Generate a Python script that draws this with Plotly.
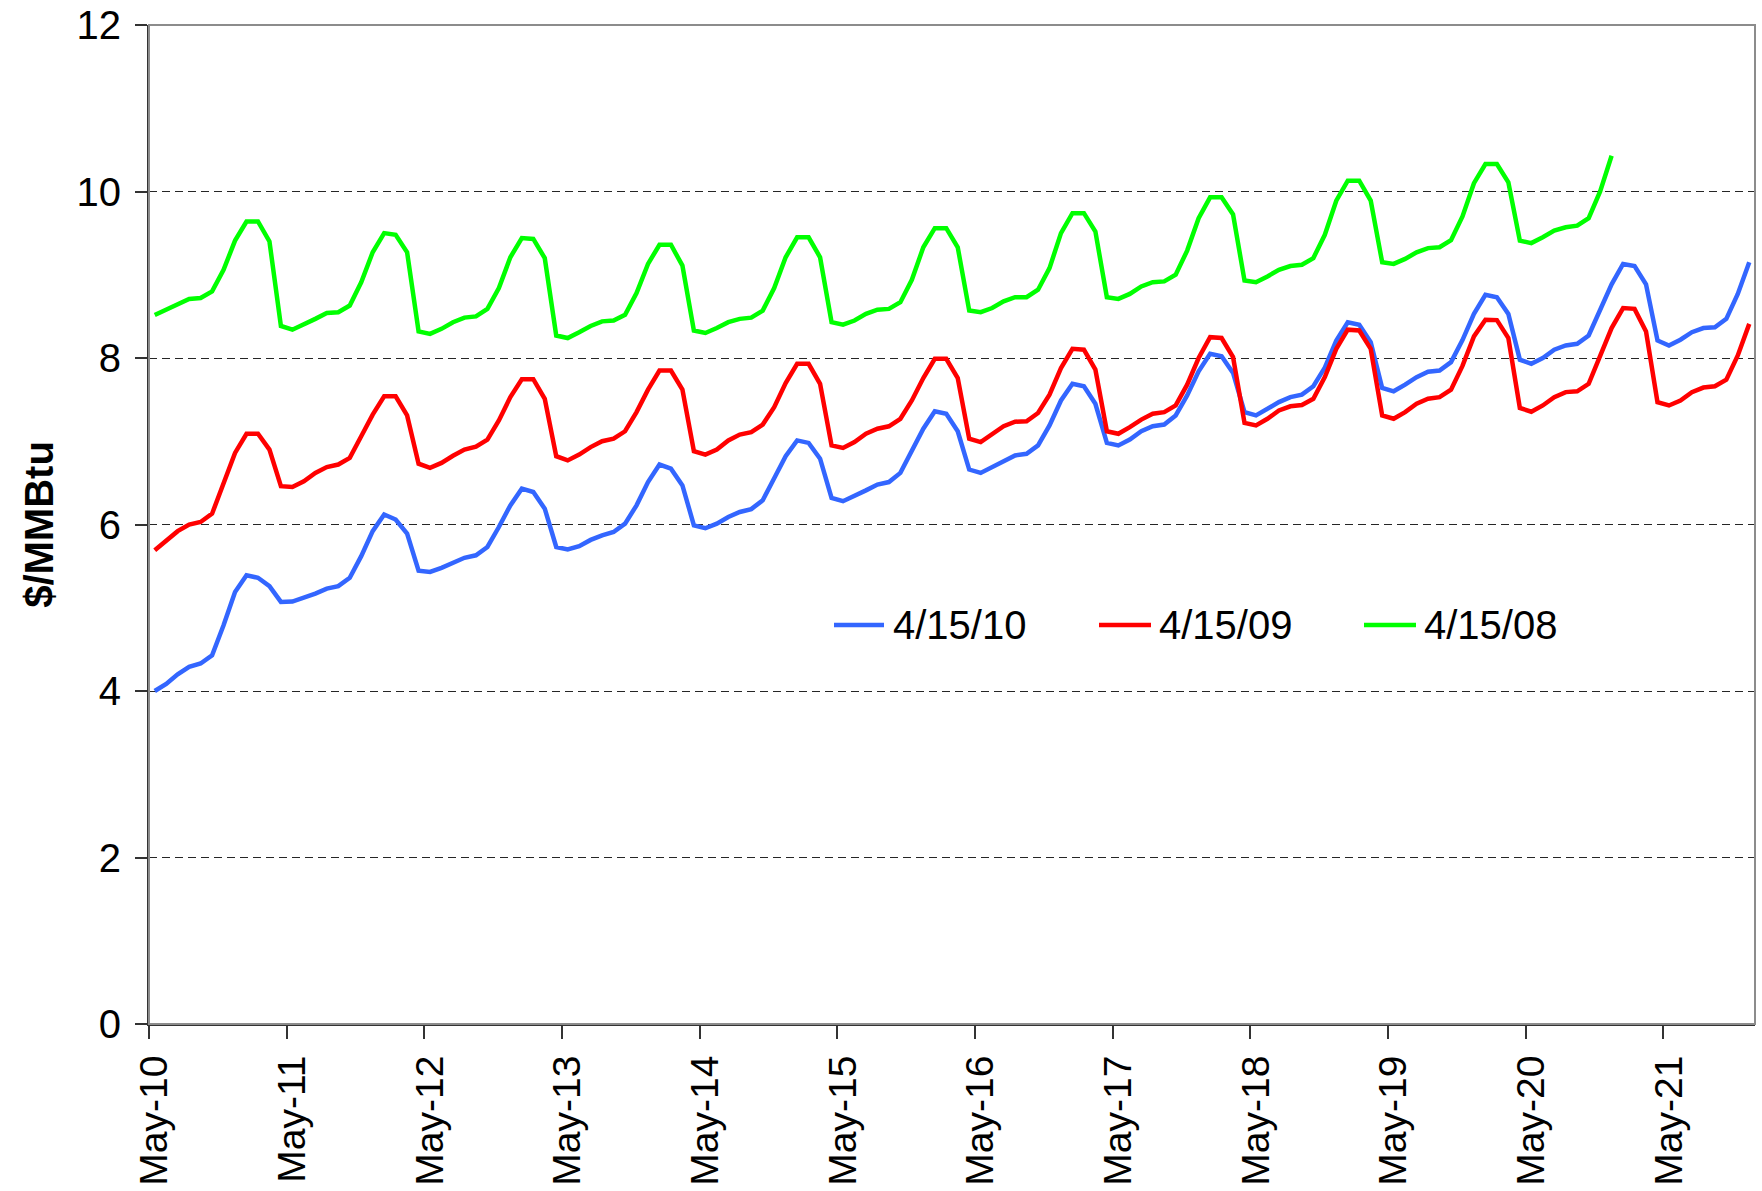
import pandas as pd
import plotly.graph_objects as go

# Monthly contract months of the futures strip (May-10 .. Dec-21)
months = pd.date_range("2010-05-01", "2021-12-01", freq="MS").strftime("%b-%y").tolist()
tick_labels = [f"May-{y:02d}" for y in range(10, 22)]

# Henry Hub futures strips ($/MMBtu) by trade date
strip_2010 = [
    4.00, 4.085, 4.20, 4.29, 4.33, 4.43, 4.79, 5.19, 5.39, 5.36, 5.26, 5.07,
    5.075, 5.12, 5.17, 5.23, 5.26, 5.36, 5.62, 5.92, 6.12, 6.06, 5.89, 5.445,
    5.43, 5.48, 5.54, 5.60, 5.63, 5.73, 5.97, 6.23, 6.43, 6.39, 6.19, 5.73,
    5.70, 5.74, 5.815, 5.87, 5.91, 6.01, 6.23, 6.51, 6.72, 6.67, 6.47, 5.99,
    5.955, 6.01, 6.09, 6.15, 6.185, 6.29, 6.555, 6.82, 7.01, 6.98, 6.79, 6.32,
    6.28, 6.34, 6.41, 6.48, 6.51, 6.62, 6.88, 7.15, 7.36, 7.33, 7.12, 6.66,
    6.62, 6.69, 6.77, 6.83, 6.85, 6.95, 7.19, 7.49, 7.69, 7.66, 7.45, 6.98,
    6.95, 7.02, 7.12, 7.18, 7.20, 7.31, 7.55, 7.84, 8.05, 8.02, 7.82, 7.35,
    7.31, 7.39, 7.47, 7.53, 7.56, 7.66, 7.885, 8.21, 8.43, 8.40, 8.19, 7.64,
    7.60, 7.68, 7.77, 7.835, 7.85, 7.95, 8.215, 8.53, 8.76, 8.73, 8.53, 7.98,
    7.93, 8.00, 8.10, 8.15, 8.17, 8.27, 8.58, 8.885, 9.13, 9.105, 8.885, 8.21,
    8.15, 8.22, 8.31, 8.36, 8.37, 8.47, 8.77, 9.15,
]
strip_2009 = [
    5.69, 5.81, 5.92, 6.00, 6.03, 6.13, 6.49, 6.86, 7.09, 7.09, 6.90, 6.46,
    6.45, 6.52, 6.62, 6.69, 6.72, 6.80, 7.06, 7.32, 7.54, 7.54, 7.31, 6.73,
    6.68, 6.74, 6.825, 6.90, 6.935, 7.02, 7.25, 7.53, 7.745, 7.745, 7.51, 6.82,
    6.77, 6.84, 6.93, 7.00, 7.03, 7.12, 7.35, 7.62, 7.85, 7.85, 7.62, 6.88,
    6.84, 6.90, 7.01, 7.08, 7.11, 7.20, 7.41, 7.70, 7.93, 7.93, 7.69, 6.95,
    6.92, 6.99, 7.09, 7.15, 7.18, 7.27, 7.49, 7.76, 7.99, 7.99, 7.76, 7.03,
    6.99, 7.08, 7.18, 7.235, 7.24, 7.34, 7.56, 7.88, 8.11, 8.10, 7.86, 7.12,
    7.09, 7.17, 7.26, 7.33, 7.35, 7.43, 7.68, 8.00, 8.25, 8.24, 8.01, 7.22,
    7.19, 7.27, 7.37, 7.42, 7.435, 7.51, 7.77, 8.11, 8.34, 8.33, 8.11, 7.31,
    7.27, 7.35, 7.45, 7.51, 7.53, 7.62, 7.905, 8.26, 8.46, 8.455, 8.24, 7.40,
    7.355, 7.43, 7.53, 7.59, 7.60, 7.69, 8.03, 8.36, 8.60, 8.59, 8.32, 7.47,
    7.43, 7.49, 7.59, 7.645, 7.66, 7.74, 8.03, 8.41,
]
strip_2008 = [
    8.517, 8.58, 8.65, 8.71, 8.72, 8.80, 9.06, 9.41, 9.64, 9.64, 9.40, 8.385,
    8.34, 8.40, 8.47, 8.54, 8.55, 8.63, 8.91, 9.27, 9.50, 9.48, 9.27, 8.32,
    8.29, 8.35, 8.43, 8.485, 8.50, 8.59, 8.84, 9.21, 9.44, 9.43, 9.20, 8.27,
    8.24, 8.31, 8.385, 8.44, 8.45, 8.52, 8.78, 9.13, 9.36, 9.36, 9.11, 8.33,
    8.30, 8.36, 8.43, 8.47, 8.485, 8.57, 8.84, 9.21, 9.45, 9.45, 9.21, 8.43,
    8.40, 8.45, 8.53, 8.58, 8.59, 8.67, 8.94, 9.33, 9.56, 9.56, 9.33, 8.57,
    8.55, 8.60, 8.68, 8.73, 8.73, 8.82, 9.08, 9.50, 9.74, 9.74, 9.52, 8.73,
    8.71, 8.77, 8.86, 8.91, 8.92, 9.00, 9.29, 9.68, 9.93, 9.93, 9.725, 8.93,
    8.91, 8.98, 9.06, 9.105, 9.12, 9.20, 9.48, 9.89, 10.13, 10.13, 9.89, 9.15,
    9.13, 9.19, 9.27, 9.32, 9.33, 9.415, 9.70, 10.10, 10.33, 10.33, 10.11, 9.41,
    9.38, 9.45, 9.53, 9.57, 9.59, 9.68, 10.00, 10.43,
]

series = [
    ("4/15/10", strip_2010, "#3366FF"),
    ("4/15/09", strip_2009, "#FF0000"),
    ("4/15/08", strip_2008, "#00FF00"),
]

W, H = 1762, 1191
L, R, T, B = 149, 7, 25, 167
PW, PH = W - L - R, H - T - B
FONT = "Liberation Sans, Arial, sans-serif"


def fx(px):
    return (px - L) / PW


def fy(py):
    return (H - B - py) / PH


fig = go.Figure()
for name, vals, color in series:
    fig.add_trace(go.Scatter(
        x=list(range(len(vals))), y=vals, name=name, mode="lines",
        customdata=months[:len(vals)],
        hovertemplate="%{customdata}: %{y:.2f}<extra>" + name + "</extra>",
        line=dict(color=color, width=4.5), showlegend=False,
    ))

# In-plot legend row: a short coloured stroke followed by the label
legend_pos = [(834, 884, 892), (1099, 1151, 1158), (1364, 1416, 1423)]
shapes = []
annotations = []
for (name, _, color), (x0, x1, xt) in zip(series, legend_pos):
    shapes.append(dict(type="line", xref="paper", yref="paper",
                       x0=fx(x0), x1=fx(x1), y0=fy(625), y1=fy(625),
                       line=dict(color=color, width=4.5)))
    annotations.append(dict(text=name, xref="paper", yref="paper",
                            x=fx(xt), y=fy(625), xanchor="left", yanchor="middle",
                            showarrow=False, borderpad=0,
                            font=dict(family=FONT, size=40, color="#000")))

# Grey plot-area frame (top and right edges)
shapes.append(dict(type="rect", xref="paper", yref="paper", x0=0, x1=1, y0=0, y1=1,
                   line=dict(color="#8c8c8c", width=2), layer="above"))

fig.update_layout(
    width=W, height=H,
    margin=dict(l=L, r=R, t=T, b=B, pad=0, autoexpand=False),
    paper_bgcolor="white", plot_bgcolor="white",
    font=dict(family=FONT, size=40, color="#000"),
    shapes=shapes, annotations=annotations,
    showlegend=False,
)

fig.update_xaxes(
    automargin=False,
    range=[-0.5, 139.5],
    tickmode="array", tickvals=list(range(0, 140, 12)), ticktext=tick_labels,
    tickangle=-90, ticks="", ticklabelstandoff=14,
    tickfont=dict(family=FONT, size=39, color="#000"),
    minor=dict(tickmode="linear", tick0=-0.5, dtick=12, ticks="outside",
               ticklen=13, tickwidth=2, tickcolor="#333", showgrid=False),
    showline=True, linecolor="#333", linewidth=2,
    showgrid=False, zeroline=False,
)

fig.update_yaxes(
    automargin=False,
    range=[0, 12], tickmode="linear", tick0=0, dtick=2,
    ticks="outside", ticklen=12, tickwidth=2, tickcolor="#333",
    ticklabelstandoff=6,
    tickfont=dict(family=FONT, size=40, color="#000"),
    showline=True, linecolor="#333", linewidth=2,
    showgrid=True, gridcolor="#262626", gridwidth=1, griddash="8px,5px",
    zeroline=False,
    title=dict(text="<b>$/MMBtu</b>", standoff=11,
               font=dict(family=FONT, size=40, color="#000")),
)

fig.write_html("out.html")
